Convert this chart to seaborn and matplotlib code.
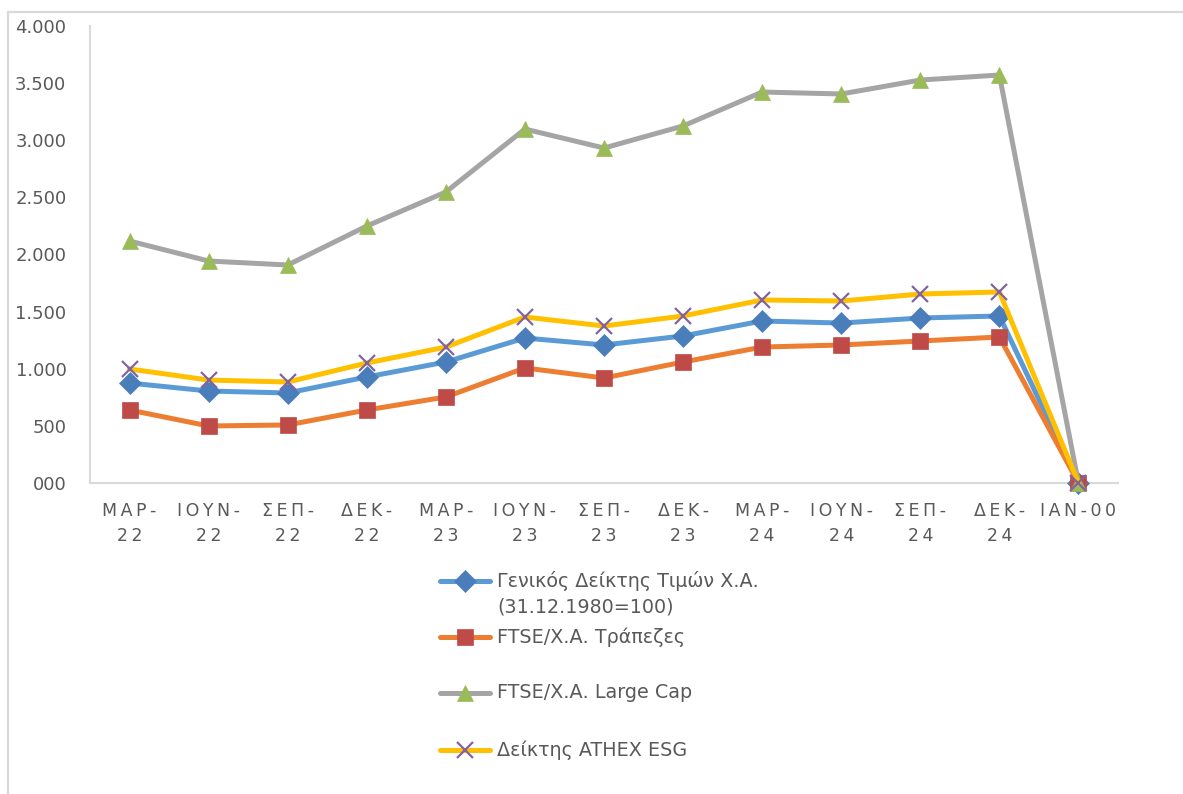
import numpy as np
import pandas as pd
import matplotlib
matplotlib.use("Agg")
import matplotlib.pyplot as plt
import seaborn as sns
from matplotlib.lines import Line2D
from matplotlib.ticker import FuncFormatter, MultipleLocator

# quarter labels as shown on the x axis
quarters = ["ΜΑΡ-22", "ΙΟΥΝ-22", "ΣΕΠ-22", "ΔΕΚ-22", "ΜΑΡ-23", "ΙΟΥΝ-23", "ΣΕΠ-23",
            "ΔΕΚ-23", "ΜΑΡ-24", "ΙΟΥΝ-24", "ΣΕΠ-24", "ΔΕΚ-24", "ΙΑΝ-00"]

general_index = [875, 805, 788, 928, 1059, 1269, 1208, 1287, 1418, 1400, 1444, 1462, 0]
banks_index = [639, 499, 508, 639, 753, 1007, 919, 1059, 1190, 1208, 1243, 1278, 0]
large_cap_index = [2118, 1943, 1908, 2249, 2547, 3098, 2932, 3125, 3422, 3405, 3527, 3571, 0]
esg_index = [998, 901, 884, 1050, 1190, 1453, 1374, 1462, 1602, 1593, 1654, 1672, 0]

series_names = ["Γενικός Δείκτης Τιμών Χ.Α.\n(31.12.1980=100)", "FTSE/Χ.Α. Τράπεζες",
                "FTSE/Χ.Α. Large Cap", "Δείκτης ATHEX ESG"]

# line colour, marker, marker colour, marker size
styles = [
    ("#5B9BD5", "D", "#4A7EBB", 11),
    ("#ED7D31", "s", "#BE4B48", 12),
    ("#A5A5A5", "^", "#9BBB59", 12),
    ("#FFC000", "x", "#8064A2", 12),
]

text_color = "#595959"
axis_color = "#D9D9D9"

sns.set_style("white")
plt.rcParams["font.family"] = ["DejaVu Sans"]

fig = plt.figure(figsize=(11.83, 7.94), dpi=100)
ax = fig.add_axes([90 / 1183, 1 - 483 / 794, (1118 - 90) / 1183, (483 - 26) / 794])

x = np.arange(len(quarters))
all_values = [general_index, banks_index, large_cap_index, esg_index]
for i, (vals, (lc, mk, mc, ms)) in enumerate(zip(all_values, styles)):
    df = pd.DataFrame({"x": x, "y": vals})
    sns.lineplot(data=df, x="x", y="y", ax=ax, color=lc, linewidth=3.6,
                 marker=mk, markersize=ms, markerfacecolor=mc, markeredgecolor=mc,
                 markeredgewidth=1.6 if mk == "x" else 0.5,
                 solid_joinstyle="round", zorder=3 + i, clip_on=False)

ax.set_xlim(-0.5, len(quarters) - 0.5)
ax.set_ylim(0, 4000)
ax.yaxis.set_major_locator(MultipleLocator(500))
ax.yaxis.set_major_formatter(FuncFormatter(lambda v, p: format(int(v), "03,").replace(",", ".")))
ax.set_xlabel("")
ax.set_ylabel("")


def spaced(label):
    # Excel draws these labels with wide letter spacing, wrapped after the dash
    head, tail = label.split("-")
    if label.startswith("ΙΑΝ"):
        return "\u2009".join(label)
    return "\u2009".join(head + "-") + "\n" + "\u2009".join(tail)


ax.set_xticks(x)
ax.set_xticklabels([spaced(q) for q in quarters], linespacing=1.45)
ax.set_xticks(np.arange(-0.5, len(quarters), 1), minor=True)
ax.tick_params(axis="x", which="major", length=0, pad=14, labelsize=12.5, labelcolor=text_color)
ax.tick_params(axis="x", which="minor", length=4, width=1.5, color=axis_color, direction="out")
ax.tick_params(axis="y", which="major", length=0, pad=17, labelsize=13, labelcolor=text_color)

for side in ["top", "right"]:
    ax.spines[side].set_visible(False)
for side in ["left", "bottom"]:
    ax.spines[side].set_color(axis_color)
    ax.spines[side].set_linewidth(1.5)
ax.grid(False)

# legend laid out in fixed slots below the plot
leg = fig.add_axes([0, 0, 1, 1], facecolor="none")
leg.set_xlim(0, 1183)
leg.set_ylim(794, 0)
leg.axis("off")
slot_y = [581, 637, 693, 750]
for name, yy, (lc, mk, mc, ms) in zip(series_names, slot_y, styles):
    leg.add_line(Line2D([440, 490], [yy, yy], color=lc, linewidth=3.6, solid_capstyle="round"))
    leg.add_line(Line2D([465], [yy], marker=mk, markersize=ms, color=mc, markeredgecolor=mc,
                        markeredgewidth=1.6 if mk == "x" else 0.5, linestyle="none"))
    for k, part in enumerate(name.split("\n")):
        leg.text(497, yy + 26 * k, part, fontsize=13.8, color=text_color, va="center", ha="left")

# chart-area frame (left and top edges are visible)
leg.add_line(Line2D([8.5, 8.5], [12, 794], color=axis_color, linewidth=1.6))
leg.add_line(Line2D([8, 1183], [12, 12], color=axis_color, linewidth=1.6))

fig.savefig("out.png", dpi=100, facecolor="white")
